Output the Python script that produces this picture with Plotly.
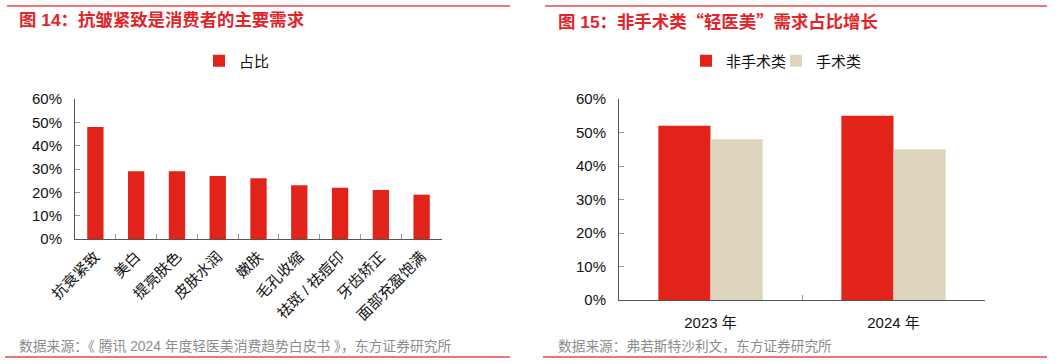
import plotly.graph_objects as go

# ---- data ----
left_categories = ["抗衰紧致", "美白", "提亮肤色", "皮肤水润", "嫩肤", "毛孔收缩", "祛斑 / 祛痘印", "牙齿矫正", "面部充盈饱满"]
left_values = [0.48, 0.29, 0.29, 0.27, 0.26, 0.23, 0.22, 0.21, 0.19]
left_series = "占比"

right_categories = ["2023 年", "2024 年"]
right_nonsurgical = [0.52, 0.55]
right_surgical = [0.48, 0.45]
right_series = ["非手术类", "手术类"]

y_ticks = [0, 0.1, 0.2, 0.3, 0.4, 0.5, 0.6]
y_tick_labels = ["0%", "10%", "20%", "30%", "40%", "50%", "60%"]

CJK = "Noto Sans CJK SC"
title_left = "图 14：抗皱紧致是消费者的主要需求"
title_right = ("图 15：非手术类<span style=\"font-family:'" + CJK + "'\">“</span>轻医美"
               "<span style=\"font-family:'" + CJK + "'\">”</span>需求占比增长")
source_left = "数据来源：《 腾讯 2024 年度轻医美消费趋势白皮书 》，东方证券研究所"
source_right = "数据来源：弗若斯特沙利文，东方证券研究所"

RED = "#E2231A"
BEIGE = "#DDD4BD"
TITLE_RED = "#E0262B"
FONT = "Liberation Sans, Arial, Noto Sans CJK SC, sans-serif"

W, H = 1061, 364

fig = go.Figure()
fig.add_trace(go.Bar(x=left_categories, y=left_values, name=left_series, marker_color=RED,
                     xaxis="x", yaxis="y", legend="legend", width=0.4))
fig.add_trace(go.Bar(x=right_categories, y=right_nonsurgical, name=right_series[0], marker_color=RED,
                     xaxis="x2", yaxis="y2", legend="legend2"))
fig.add_trace(go.Bar(x=right_categories, y=right_surgical, name=right_series[1], marker_color=BEIGE,
                     xaxis="x2", yaxis="y2", legend="legend3"))

def px_x(v):
    return v / W

def px_y(v):
    return 1 - v / H

axis_common = dict(showgrid=False, zeroline=False, showline=True, linecolor="#555555", linewidth=1,
                   automargin=False,
                   ticks="inside", ticklen=5, tickcolor="#999999", tickfont=dict(size=15, color="#111111", family=FONT))

legend_common = dict(xanchor="left", yanchor="middle", orientation="h",
                     font=dict(size=15, family=FONT), itemwidth=30, bgcolor="rgba(0,0,0,0)")

fig.update_layout(
    template="none",
    width=W, height=H,
    margin=dict(l=0, r=0, t=0, b=0, autoexpand=False),
    paper_bgcolor="white", plot_bgcolor="white",
    font=dict(family=FONT, color="#111111"),
    barmode="group",
    bargap=0.43, bargroupgap=0,
    xaxis=dict(domain=[px_x(75), px_x(442)], anchor="y", tickson="boundaries", tickangle=-45,
               ticklabelstandoff=2, fixedrange=True, **axis_common),
    yaxis=dict(domain=[px_y(239), px_y(99)], anchor="x", range=[0, 0.6], tickvals=y_ticks,
               ticktext=y_tick_labels, ticklabelstandoff=9, **axis_common),
    xaxis2=dict(domain=[px_x(619), px_x(985)], anchor="y2", tickson="boundaries",
                ticklabelstandoff=9, **axis_common),
    yaxis2=dict(domain=[px_y(300), px_y(99)], anchor="x2", range=[0, 0.6], tickvals=y_ticks,
                ticktext=y_tick_labels, ticklabelstandoff=9, **axis_common),
    legend=dict(x=px_x(199), y=px_y(61), **legend_common),
    legend2=dict(x=px_x(686), y=px_y(61), **legend_common),
    legend3=dict(x=px_x(776), y=px_y(61), **legend_common),
    showlegend=True,
)

shapes = []
# top & bottom red rules
for x0, x1 in [(7, 510), (545, 1047)]:
    shapes.append(dict(type="line", xref="paper", yref="paper", x0=px_x(x0), x1=px_x(x1),
                       y0=px_y(6), y1=px_y(6), line=dict(color="#E8474A", width=1.5)))
for x0, x1 in [(5, 510), (543, 1047)]:
    shapes.append(dict(type="line", xref="paper", yref="paper", x0=px_x(x0), x1=px_x(x1),
                       y0=px_y(357), y1=px_y(357), line=dict(color="#E8474A", width=1.5)))
fig.update_layout(shapes=shapes)

annotations = [
    dict(text=f"<b>{title_left}</b>", x=px_x(17), y=px_y(20), xref="paper", yref="paper",
         xanchor="left", yanchor="middle", showarrow=False, font=dict(size=17.4, color=TITLE_RED, family=FONT)),
    dict(text=f"<b>{title_right}</b>", x=px_x(556), y=px_y(20), xref="paper", yref="paper",
         xanchor="left", yanchor="middle", showarrow=False, font=dict(size=17.4, color=TITLE_RED, family=FONT)),
    dict(text=source_left, x=px_x(17), y=px_y(346), xref="paper", yref="paper",
         xanchor="left", yanchor="middle", showarrow=False, font=dict(size=13.8, color="#8C8C8C", family=FONT)),
    dict(text=source_right, x=px_x(556), y=px_y(346), xref="paper", yref="paper",
         xanchor="left", yanchor="middle", showarrow=False, font=dict(size=13.7, color="#8C8C8C", family=FONT)),
]
fig.update_layout(annotations=annotations)

fig.write_html("out.html")
